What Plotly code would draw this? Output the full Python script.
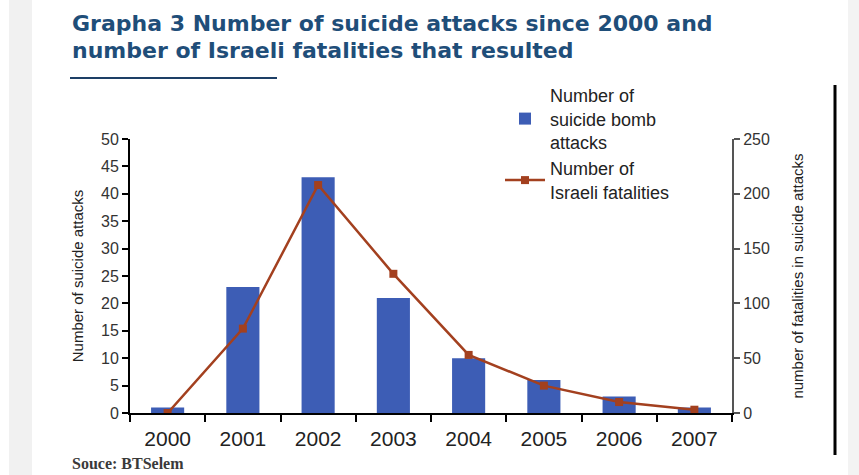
import plotly.graph_objects as go

years = ["2000", "2001", "2002", "2003", "2004", "2005", "2006", "2007"]
attacks = [1, 23, 43, 21, 10, 6, 3, 1]
fatalities = [0, 77, 208, 127, 53, 25, 10, 3]
left_ticks = list(range(0, 55, 5))
right_ticks = list(range(0, 300, 50))
title_lines = ["Grapha 3 Number of suicide attacks since 2000 and",
               "number of Israeli fatalities that resulted"]

W, H = 859, 475
L, R, T, B = 130, 127, 139, 62
PW, PH = W - L - R, H - T - B


def px(x):
    return (x - L) / PW


def py(y):
    return (413 - y) / PH


fig = go.Figure()
fig.add_trace(go.Bar(
    x=years, y=attacks, name="Number of<br>suicide bomb<br>attacks",
    marker=dict(color="#3D5DB5", line=dict(width=0)), width=0.44, yaxis="y"))
fig.add_trace(go.Scatter(
    x=years, y=fatalities, name="Number of<br>Israeli fatalities", yaxis="y2",
    mode="lines+markers", line=dict(color="#A3401F", width=2.5),
    marker=dict(symbol="square", size=8, color="#A3401F")))

tickfont = dict(family="Liberation Sans", size=16, color="#333333")
title_font = dict(family="DejaVu Sans", size=22, color="#1F4E79", weight="bold")
annotations = [
    dict(text=title_lines[0], xref="paper", yref="paper", x=px(70), y=py(23),
         xanchor="left", yanchor="middle", showarrow=False, font=title_font),
    dict(text=title_lines[1], xref="paper", yref="paper", x=px(70), y=py(50),
         xanchor="left", yanchor="middle", showarrow=False, font=title_font),
    dict(text="Souce: BTSelem", xref="paper", yref="paper",
         x=px(70), y=py(463), xanchor="left", yanchor="middle", showarrow=False,
         font=dict(family="Liberation Serif", size=16, color="#3a3a3a", weight="bold")),
]

fig.update_layout(
    width=W, height=H, margin=dict(l=L, r=R, t=T, b=B),
    paper_bgcolor="white", plot_bgcolor="white",
    showlegend=True,
    legend=dict(x=px(500), y=py(77),
                xanchor="left", yanchor="top", bgcolor="rgba(0,0,0,0)",
                font=dict(family="Liberation Sans", size=18, color="#222222"),
                tracegroupgap=6, itemwidth=40),
    xaxis=dict(type="category", showgrid=False, showline=True, linecolor="black",
               linewidth=2, ticks="outside", tickson="boundaries", ticklen=7,
               tickwidth=2, tickcolor="black", ticklabelstandoff=6,
               tickfont=dict(family="Liberation Sans", size=21, color="#222222")),
    yaxis=dict(range=[0, 50], tickvals=left_ticks, showgrid=False, zeroline=False,
               showline=True, linecolor="black", linewidth=2, ticks="outside",
               ticklen=6, tickwidth=2, tickcolor="black", tickfont=tickfont,
               title=dict(text="Number of suicide attacks",
                          font=dict(family="Liberation Sans", size=15, color="#222222"),
                          standoff=14)),
    yaxis2=dict(range=[0, 250], tickvals=right_ticks, overlaying="y", side="right",
                showgrid=False, zeroline=False, showline=True, linecolor="#555555",
                linewidth=2, ticks="outside", ticklen=6, tickwidth=2, tickcolor="#555555",
                tickfont=tickfont,
                title=dict(text="number of fatalities in suicide attacks",
                           font=dict(family="Liberation Sans", size=15, color="#222222"),
                           standoff=24)),
    shapes=[
        dict(type="rect", xref="paper", yref="paper", x0=px(9), x1=px(32),
             y0=-1, y1=2, fillcolor="#F1F1F1", line=dict(width=0), layer="below"),
        dict(type="rect", xref="paper", yref="paper", x0=px(848), x1=px(W),
             y0=-1, y1=2, fillcolor="#F3F3F3", line=dict(width=0), layer="below"),
        dict(type="line", xref="paper", yref="paper", x0=px(835), x1=px(835),
             y0=py(455), y1=py(85), line=dict(color="black", width=3)),
        dict(type="line", xref="paper", yref="paper", x0=px(70), x1=px(277),
             y0=py(78), y1=py(78), line=dict(color="#1D3F66", width=2)),
    ],
    annotations=annotations,
)
fig.write_html("out.html")
